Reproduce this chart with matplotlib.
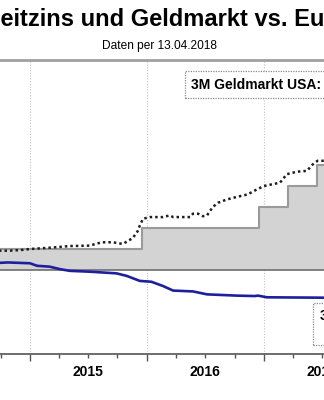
import datetime as dt
import matplotlib
matplotlib.use("Agg")
import matplotlib.pyplot as plt
import matplotlib.dates as mdates
from matplotlib.ticker import FuncFormatter, NullFormatter

plt.rcParams['font.family'] = ['Liberation Sans', 'DejaVu Sans']

# Fed funds target rate (upper bound), % – change dates and levels
fed_dates = ["2014-09-01", "2015-12-17", "2016-12-15", "2017-03-16", "2017-06-15", "2017-08-01"]
fed_rates = [0.25, 0.50, 0.75, 1.00, 1.25, 1.25]

# 3M money market USA (USD Libor), %
usd_dates = ["2014-09-01", "2014-10-30", "2014-12-10", "2015-01-01", "2015-03-03",
             "2015-05-05", "2015-07-06", "2015-08-13", "2015-09-17", "2015-10-18",
             "2015-11-18", "2015-12-03", "2015-12-10", "2015-12-20", "2016-01-10",
             "2016-02-20", "2016-03-13", "2016-03-23", "2016-05-15", "2016-05-24",
             "2016-06-09", "2016-06-24", "2016-07-07", "2016-07-25", "2016-08-10",
             "2016-09-07", "2016-10-08", "2016-11-11", "2016-12-10", "2017-01-01",
             "2017-02-20", "2017-03-13", "2017-04-13", "2017-05-15", "2017-05-31",
             "2017-06-17", "2017-07-20"]
usd_rates = [0.23, 0.23, 0.24, 0.25, 0.265,
             0.285, 0.29, 0.33, 0.33, 0.31,
             0.38, 0.46, 0.53, 0.61, 0.63,
             0.63, 0.65, 0.63, 0.63, 0.67,
             0.67, 0.64, 0.65, 0.75, 0.80,
             0.84, 0.87, 0.90, 0.96, 1.00,
             1.04, 1.14, 1.17, 1.18, 1.25,
             1.30, 1.30]

# 3M money market Euro (Euribor), %
eur_dates = ["2014-09-01", "2014-10-24", "2015-01-01", "2015-01-23", "2015-03-03",
             "2015-04-05", "2015-05-05", "2015-07-06", "2015-08-18", "2015-09-28",
             "2015-10-30", "2015-12-10", "2016-01-15", "2016-02-20", "2016-03-23",
             "2016-05-24", "2016-07-07", "2016-10-08", "2016-12-03", "2016-12-13",
             "2016-12-27", "2017-01-10", "2017-07-20"]
eur_rates = [0.08, 0.09, 0.08, 0.05, 0.04,
             0.01, -0.01, -0.02, -0.03, -0.04,
             -0.07, -0.13, -0.14, -0.19, -0.245,
             -0.255, -0.29, -0.305, -0.31, -0.305,
             -0.315, -0.325, -0.33]

years = [2015, 2016, 2017]

to_dt = lambda s: dt.datetime.strptime(s, "%Y-%m-%d")
fed_x = [to_dt(d) for d in fed_dates]
usd_x = [to_dt(d) for d in usd_dates]
eur_x = [to_dt(d) for d in eur_dates]

fig = plt.figure(figsize=(3.24, 4.0), dpi=100)
ax = fig.add_axes([0.0, 0.115, 1.0, 0.735])

# Fed target: shaded step area down to zero
ax.fill_between(fed_x, fed_rates, 0, step="post", color="#d3d3d3", lw=0, zorder=1)
ax.step(fed_x, fed_rates, where="post", color="#9a9a9a", lw=1.5, zorder=2)

ax.axhline(0, color="#6e6e6e", lw=1.2, zorder=3)

ax.plot(usd_x, usd_rates, color="#1e1e1e", lw=1.8, ls=(0, (1, 1.2)), zorder=4)
ax.plot(eur_x, eur_rates, color="#1f1f9e", lw=1.9, zorder=4)

for y in years:
    ax.axvline(dt.datetime(y, 1, 1), color="#c4c4c4", lw=0.8, ls=(0, (1, 1.5)), zorder=0)

x0 = dt.datetime(2015, 1, 1) - dt.timedelta(days=93.7)
x1 = dt.datetime(2017, 1, 1) + dt.timedelta(days=187.3)
ax.set_xlim(x0, x1)
ax.set_ylim(-1.0, 2.5)

for s in ("left", "right"):
    ax.spines[s].set_visible(False)
ax.spines["top"].set_color("#a0a0a0")
ax.spines["top"].set_linewidth(2.0)
ax.spines["bottom"].set_color("#555555")
ax.spines["bottom"].set_linewidth(1.2)

ax.set_yticks([])
ax.xaxis.set_major_locator(mdates.YearLocator())
ax.xaxis.set_major_formatter(NullFormatter())
ax.xaxis.set_minor_locator(mdates.MonthLocator(bymonth=[1, 4, 7, 10]))
ax.xaxis.set_minor_formatter(FuncFormatter(
    lambda v, p: str(mdates.num2date(v).year) if mdates.num2date(v).month == 7 else ""))
ax.tick_params(axis="x", which="major", length=5, width=1.0, color="#555555")
ax.tick_params(axis="x", which="minor", length=3, width=1.0, color="#555555",
               pad=5, labelsize=10)
for lbl in ax.xaxis.get_minorticklabels():
    lbl.set_fontweight("bold")

box = dict(boxstyle="square,pad=0.45", fc="white", ec="#8a8a8a", lw=0.9, ls=(0, (1, 1)))
ax.text(dt.datetime(2016, 5, 19), 2.21, "3M Geldmarkt USA: 2,36%", fontsize=10,
        fontweight="bold", va="center", ha="left", bbox=box, zorder=6)
ax.text(dt.datetime(2017, 6, 24), -0.64, "3M Geldmarkt Euro:\n-0,33%", fontsize=10,
        fontweight="bold", va="center", ha="left", bbox=box, zorder=6,
        linespacing=1.15, multialignment="right")

fig.text(-0.044, 1 - 26 / 400, "Leitzins und Geldmarkt vs. Euro", fontsize=17,
         fontweight="bold", ha="left", va="baseline")
fig.text(160 / 324, 1 - 49 / 400, "Daten per 13.04.2018", fontsize=8.6,
         ha="center", va="baseline")

fig.savefig("out.png", dpi=100, facecolor="white")
